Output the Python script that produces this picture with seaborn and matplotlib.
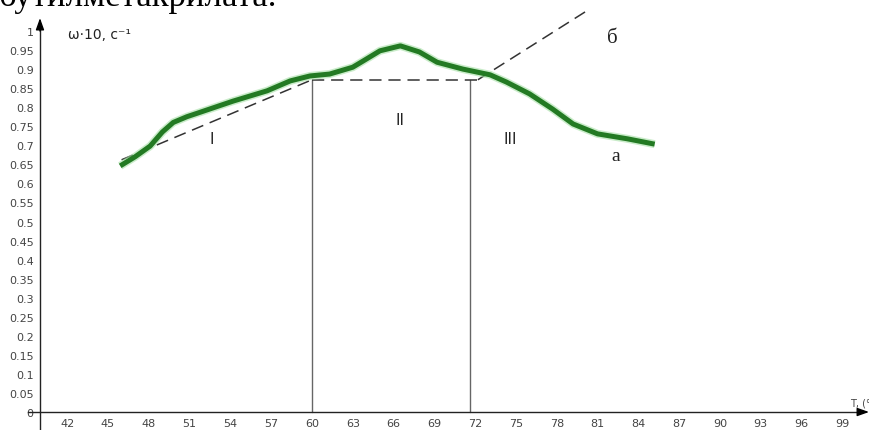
import numpy as np
import pandas as pd
import matplotlib
matplotlib.use("Agg")
import matplotlib.pyplot as plt
import matplotlib.patheffects as pe
import seaborn as sns

# Temperature dependence of the relaxation frequency (curve "a")
temperature = [45.9, 47.0, 48.1, 49.0, 49.8, 50.8, 51.8, 54.2, 56.7, 58.4,
               59.85, 61.3, 63.0, 63.75, 65.0, 66.5, 67.9, 69.2, 71.1, 73.1,
               74.3, 76.0, 77.7, 79.2, 81.0, 83.2, 85.2]
omega = [0.646, 0.670, 0.698, 0.735, 0.760, 0.775, 0.787, 0.816, 0.843, 0.869,
         0.882, 0.887, 0.905, 0.921, 0.948, 0.961, 0.945, 0.918, 0.900, 0.885,
         0.866, 0.835, 0.795, 0.756, 0.730, 0.717, 0.703]

# Construction lines: tangent I, plateau II, tangent "б"
tangent_I_t = [46.0, 60.0]
tangent_I_w = [0.662, 0.872]
plateau_t = [60.0, 72.2]
plateau_w = [0.872, 0.872]
tangent_b_t = [72.2, 80.3]
tangent_b_w = [0.872, 1.055]
region_bounds = [60.0, 71.6]
region_top = 0.872

x_ticks = list(range(42, 100, 3))
y_ticks = [round(0.05 * i, 2) for i in range(21)]

sns.set_style("white")
plt.rcParams["font.family"] = ["DejaVu Sans"]

fig = plt.figure(figsize=(8.69, 4.31), dpi=100)
ax = fig.add_axes([0, 0, 1, 1])
ax.set_xlim(37.06, 100.96)
ax.set_ylim(-0.0472, 1.084)
ax.patch.set_alpha(0)

# Axes crossing at (40, 0)
for side in ("top", "right"):
    ax.spines[side].set_visible(False)
ax.spines["left"].set_position(("data", 40))
ax.spines["bottom"].set_position(("data", 0))
ax.spines["left"].set_bounds(-0.0472, 1.01)
ax.spines["bottom"].set_bounds(39.1, 100.4)
for side in ("left", "bottom"):
    ax.spines[side].set_color("#222222")
    ax.spines[side].set_linewidth(1.0)
ax.annotate("", xy=(40, 1.034), xytext=(40, 1.0),
            arrowprops=dict(arrowstyle="-|>,head_length=0.7,head_width=0.25",
                            color="black", lw=1.0, shrinkA=0, shrinkB=0))
ax.annotate("", xy=(100.96, 0), xytext=(100.3, 0),
            arrowprops=dict(arrowstyle="-|>,head_length=0.7,head_width=0.25",
                            color="black", lw=1.0, shrinkA=0, shrinkB=0))

ax.set_xticks(x_ticks)
ax.set_xticklabels([str(t) for t in x_ticks])
ax.set_yticks(y_ticks)
ax.set_yticklabels([f"{v:g}" for v in y_ticks])
ax.tick_params(axis="both", direction="inout", length=5, width=0.8,
               color="#444444", labelsize=8, labelcolor="#444444")
ax.tick_params(axis="y", pad=2)
ax.tick_params(axis="x", pad=2)

# Region boundaries
for t in region_bounds:
    ax.plot([t, t], [0, region_top], color="#666666", lw=1.0)

dash = dict(color="#333333", lw=1.1, dashes=(8, 4.5))
ax.plot(tangent_I_t, tangent_I_w, **dash)
ax.plot(plateau_t, plateau_w, **dash)
ax.plot(tangent_b_t, tangent_b_w, **dash)

# Curve a
df = pd.DataFrame({"T": temperature, "w": omega})
sns.lineplot(data=df, x="T", y="w", ax=ax, sort=False, color="#237a23",
             lw=3.6, solid_capstyle="butt", solid_joinstyle="round",
             path_effects=[pe.Stroke(linewidth=5.8, foreground="#a6e0a6", alpha=0.6),
                           pe.Normal()])
ax.set_xlabel("")
ax.set_ylabel("")

# Annotations
ax.text(42.06, 0.992, "ω·10, с⁻¹", ha="left", va="center", fontsize=10,
        color="#222222")
ax.text(52.6, 0.717, "I", ha="center", va="center", fontsize=11, color="#222222")
ax.text(66.5, 0.769, "II", ha="center", va="center", fontsize=11, color="#222222")
ax.text(74.6, 0.717, "III", ha="center", va="center", fontsize=11, color="#222222")
ax.text(82.1, 0.984, "б", ha="center", va="center", fontsize=15,
        family="Liberation Serif", color="#222222")
ax.text(82.3, 0.672, "a", ha="center", va="center", fontsize=14,
        family="Liberation Serif", color="#222222")
ax.text(99.6, 0.012, "T, (°C)", ha="left", va="bottom", fontsize=7,
        color="#444444")

fig.text(277 / 869, 1 - 6 / 431, "бутилметакрилата.", ha="right",
         va="baseline", family="Liberation Serif", fontsize=25, color="black")

fig.savefig("out.png", dpi=100, facecolor="white")
